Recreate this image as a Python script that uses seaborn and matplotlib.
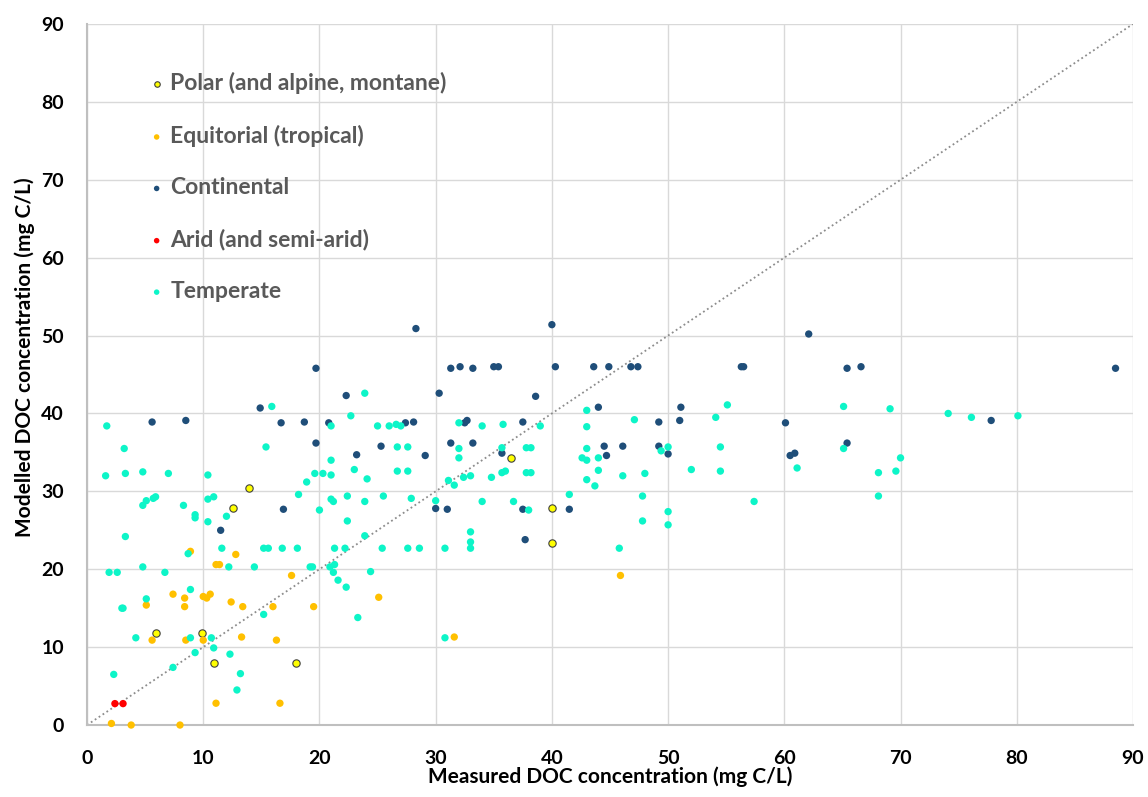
import numpy as np
import pandas as pd
import matplotlib
matplotlib.use("Agg")
import matplotlib.pyplot as plt
import seaborn as sns

# Measured vs modelled DOC
polar_x = [5.9, 9.9, 10.9, 12.6, 13.9, 18.0, 36.5, 40.0, 40.0]
polar_y = [11.8, 11.8, 7.9, 27.8, 30.4, 7.9, 34.3, 27.8, 23.4]

equat_x = [8.9, 12.8, 11.1, 11.4, 17.6, 7.4, 8.4, 10.0, 10.3, 10.6, 5.1, 8.4, 12.4, 13.4, 16.0,
           19.5, 5.6, 8.5, 10.0, 13.3, 16.3, 11.1, 16.6, 2.1, 3.8, 8.0, 25.1, 31.6, 45.9]
equat_y = [22.3, 21.9, 20.6, 20.6, 19.2, 16.8, 16.3, 16.5, 16.3, 16.8, 15.4, 15.2, 15.8, 15.2, 15.2,
           15.2, 10.9, 10.9, 10.9, 11.3, 10.9, 2.8, 2.8, 0.2, 0.0, 0.0, 16.4, 11.3, 19.2]

cont_x = [16.9, 11.5, 19.7, 14.9, 5.6, 8.5, 16.7, 18.7, 20.8, 19.7, 28.3, 40.0, 31.3, 32.1, 33.2,
          35.0, 35.4, 40.3, 22.3, 30.3, 38.6, 27.4, 28.1, 32.5, 32.7, 37.5, 25.3, 23.2, 29.1, 31.3,
          33.2, 35.7, 30.0, 31.0, 37.5, 41.5, 37.7, 62.1, 43.6, 44.9, 46.8, 47.4, 56.3, 56.5, 44.0,
          51.1, 49.2, 51.0, 60.1, 44.5, 46.1, 44.7, 49.2, 50.0, 60.5, 60.9, 65.4, 66.6, 65.4, 77.8,
          88.5]
cont_y = [27.7, 25.0, 45.8, 40.7, 38.9, 39.1, 38.8, 38.9, 38.8, 36.2, 50.9, 51.4, 45.8, 46.0, 45.8,
          46.0, 46.0, 46.0, 42.3, 42.6, 42.2, 38.8, 38.9, 38.8, 39.1, 38.9, 35.8, 34.7, 34.6, 36.2,
          36.2, 34.9, 27.8, 27.7, 27.7, 27.7, 23.8, 50.2, 46.0, 46.0, 46.0, 46.0, 46.0, 46.0, 40.8,
          40.8, 38.9, 39.1, 38.8, 35.8, 35.8, 34.6, 35.8, 34.8, 34.6, 34.9, 45.8, 46.0, 36.2, 39.1,
          45.8]

arid_x = [2.4, 3.1]
arid_y = [2.75, 2.75]

temp_x = [18.9, 5.1, 4.8, 5.9, 5.7, 8.3, 10.4, 10.9, 9.3, 9.3, 10.4, 12.0, 18.2, 20.0, 21.0,
          21.2, 3.3, 8.7, 11.6, 15.2, 15.6, 16.8, 18.1, 21.3, 1.9, 2.6, 4.8, 6.7, 12.2, 14.4,
          19.2, 19.4, 20.9, 21.3, 21.2, 21.6, 8.9, 5.1, 3.0, 3.1, 15.2, 4.2, 8.9, 10.7, 10.9,
          9.3, 12.3, 7.4, 2.3, 13.2, 12.9,
          1.7, 3.2, 1.6, 3.3, 4.8, 7.0, 10.4, 15.9, 15.4, 21.0, 21.0, 19.6, 20.3, 21.0,
          23.9, 22.7, 25.0, 26.0, 26.6, 27.0, 32.0, 34.0, 35.8, 39.0, 26.7, 27.6, 32.0, 32.0,
          35.7, 37.8, 38.2, 23.0, 24.1, 26.7, 27.6, 31.1, 31.6, 32.4, 33.0, 34.8, 35.7, 36.0,
          37.8, 38.2, 41.5,
          22.4, 23.9, 25.5, 27.9, 30.0, 34.0, 36.7, 38.0, 22.4, 23.9, 22.2, 25.4, 27.6, 28.6,
          30.8, 33.0, 33.0, 33.0, 24.4, 22.3, 23.3, 30.8,
          55.1, 54.1, 43.0, 43.0, 47.1, 43.0, 50.0, 49.4, 54.5, 42.6, 43.0, 44.0, 44.0, 46.1,
          48.0, 52.0, 54.5, 61.1, 43.0, 43.7, 47.8, 57.4, 50.0, 47.8, 50.0, 45.8,
          65.1, 69.1, 74.1, 76.1, 80.1, 65.1, 70.0, 68.1, 69.6, 68.1]
temp_y = [31.2, 28.8, 28.2, 29.3, 29.1, 28.2, 29.0, 29.3, 27.0, 26.6, 26.1, 26.8, 29.6, 27.6, 29.0,
          28.7, 24.2, 22.0, 22.7, 22.7, 22.7, 22.7, 22.7, 22.7, 19.6, 19.6, 20.3, 19.6, 20.3, 20.3,
          20.3, 20.3, 20.3, 20.6, 19.6, 18.6, 17.4, 16.2, 15.0, 15.0, 14.2, 11.2, 11.2, 11.2, 9.9,
          9.3, 9.1, 7.4, 6.5, 6.6, 4.5,
          38.4, 35.5, 32.0, 32.3, 32.5, 32.3, 32.1, 40.9, 35.7, 38.4, 34.0, 32.3, 32.3, 32.1,
          42.6, 39.7, 38.4, 38.4, 38.6, 38.4, 38.8, 38.4, 38.6, 38.4, 35.7, 35.7, 35.5, 34.3,
          35.6, 35.6, 35.6, 32.8, 31.6, 32.6, 32.6, 31.4, 30.8, 31.8, 32.0, 31.8, 32.4, 32.6,
          32.4, 32.4, 29.6,
          29.4, 28.7, 29.4, 29.1, 28.8, 28.7, 28.7, 27.6, 26.2, 24.3, 22.7, 22.7, 22.7, 22.7,
          22.7, 24.8, 23.5, 22.7, 19.7, 17.7, 13.8, 11.2,
          41.1, 39.5, 40.4, 38.3, 39.2, 35.5, 35.7, 35.2, 35.7, 34.3, 34.0, 34.3, 32.7, 32.0,
          32.3, 32.8, 32.6, 33.0, 31.5, 30.7, 29.4, 28.7, 27.4, 26.2, 25.7, 22.7,
          40.9, 40.6, 40.0, 39.5, 39.7, 35.5, 34.3, 32.4, 32.6, 29.4]

groups = [
    ("Polar (and alpine, montane)", polar_x, polar_y, "#FFFF00", "#404040"),
    ("Equitorial (tropical)", equat_x, equat_y, "#FFC000", "none"),
    ("Continental", cont_x, cont_y, "#1F4E79", "none"),
    ("Arid (and semi-arid)", arid_x, arid_y, "#FF0000", "none"),
    ("Temperate", temp_x, temp_y, "#0DF5C8", "none"),
]

sns.set_style("white")
plt.rcParams['font.family'] = ['Lato', 'DejaVu Sans']

fig = plt.figure(figsize=(11.48, 7.97), dpi=100)
ax = fig.add_axes([0.0758, 0.0903, 0.9111, 0.8796])

for name, xs, ys, col, edge in groups:
    df = pd.DataFrame({"x": xs, "y": ys})
    sns.scatterplot(data=df, x="x", y="y", ax=ax, color=col, s=28,
                    edgecolor=edge, linewidth=0.8 if edge != "none" else 0,
                    label=name, clip_on=False, zorder=3)

# 1:1 line
ax.axline((0, 0), slope=1, color="#8C8C8C", lw=1.3, ls=(0, (1, 1.6)), zorder=2)

ax.set_xlim(0, 90)
ax.set_ylim(0, 90)
ax.set_xticks(range(0, 91, 10))
ax.set_yticks(range(0, 91, 10))
ax.grid(True, color="#D9D9D9", lw=1)
ax.set_axisbelow(True)
for s in ["top", "right"]:
    ax.spines[s].set_visible(False)
for s in ["left", "bottom"]:
    ax.spines[s].set_color("#BFBFBF")
    ax.spines[s].set_linewidth(1.5)
ax.tick_params(length=0, labelsize=14, labelcolor="#000000")
ax.tick_params(axis="x", pad=18)
ax.tick_params(axis="y", pad=16.5)
for lab in ax.get_xticklabels() + ax.get_yticklabels():
    lab.set_fontweight("bold")

ax.set_xlabel("Measured DOC concentration (mg C/L)", fontsize=15, fontweight="bold",
              color="#000000", va="center")
ax.set_ylabel("Modelled DOC concentration (mg C/L)", fontsize=15, fontweight="bold",
              color="#000000", va="center")
ax.xaxis.set_label_coords(0.5, -0.074)
ax.yaxis.set_label_coords(-0.060, 0.525)

leg = ax.legend(loc="upper left", bbox_to_anchor=(0.060, 0.931), frameon=False,
                fontsize=16.5, labelspacing=1.33, handlelength=0.6, handletextpad=0.3,
                markerscale=0.75, borderaxespad=0, borderpad=0)
for t in leg.get_texts():
    t.set_color("#595959")
    t.set_fontweight("bold")

fig.savefig("out.png", dpi=100)
